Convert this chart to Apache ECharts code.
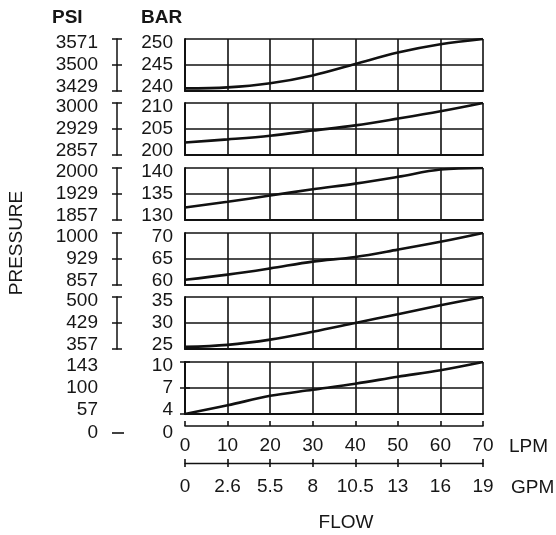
<!DOCTYPE html>
<html>
<head>
<meta charset="utf-8">
<script src="https://cdn.jsdelivr.net/npm/echarts@6/dist/echarts.min.js"></script>
<style>
html,body{margin:0;padding:0;background:#fff;}
#chart{width:556px;height:535px;}
</style>
</head>
<body>
<div id="chart"></div>
<script>
// ---- data ----
const lpm = [0, 10, 20, 30, 40, 50, 60, 70];
const gpmLabels = ['0', '2.6', '5.5', '8', '10.5', '13', '16', '19'];

const barTicks1 = [240, 245, 250];
const psiTicks1 = ['3429', '3500', '3571'];
const bar1 = [240.5, 240.7, 241.5, 243.0, 245.2, 247.4, 249.0, 250.0];

const barTicks2 = [200, 205, 210];
const psiTicks2 = ['2857', '2929', '3000'];
const bar2 = [202.4, 203.0, 203.7, 204.7, 205.7, 207.0, 208.4, 210.0];

const barTicks3 = [130, 135, 140];
const psiTicks3 = ['1857', '1929', '2000'];
const bar3 = [132.4, 133.5, 134.7, 135.9, 137.0, 138.3, 139.7, 140.0];

const barTicks4 = [60, 65, 70];
const psiTicks4 = ['857', '929', '1000'];
const bar4 = [61.0, 62.0, 63.2, 64.5, 65.4, 66.8, 68.3, 70.0];

const barTicks5 = [25, 30, 35];
const psiTicks5 = ['357', '429', '500'];
const bar5 = [25.4, 25.8, 26.8, 28.3, 30.0, 31.7, 33.4, 35.0];

const barTicks6 = [4, 7, 10];
const psiTicks6 = ['57', '100', '143'];
const bar6 = [4.0, 5.0, 6.1, 6.8, 7.5, 8.3, 9.05, 10.0];

const psiZero = '0';
const barZero = '0';

// ---- layout ----
const panels = [
  {bar: barTicks1, psi: psiTicks1, vals: bar1},
  {bar: barTicks2, psi: psiTicks2, vals: bar2},
  {bar: barTicks3, psi: psiTicks3, vals: bar3},
  {bar: barTicks4, psi: psiTicks4, vals: bar4},
  {bar: barTicks5, psi: psiTicks5, vals: bar5},
  {bar: barTicks6, psi: psiTicks6, vals: bar6}
];
const tops = [39, 103, 168, 233, 297, 362];
const FONT = "'Liberation Sans', Arial, sans-serif";
const FS = 19;
const TXT = '#161616';
const INK = '#111';

const richBase = {fontSize: FS, fontFamily: FONT, color: TXT};
const rich = {
  lo: Object.assign({padding: [0, 0, 8, 0]}, richBase),
  md: Object.assign({}, richBase),
  hi: Object.assign({padding: [8, 0, 0, 0]}, richBase)
};
const keys = ['lo', 'md', 'hi'];

const grid = [], xAxis = [], yAxis = [], series = [];
panels.forEach((p, i) => {
  grid.push({left: 185, width: 298, top: tops[i], height: 52});
  const mn = p.bar[0], mx = p.bar[2], iv = p.bar[1] - p.bar[0];
  const idx = v => Math.round((v - mn) / iv);
  xAxis.push({
    type: 'value', gridIndex: i, min: 0, max: 70, interval: 10,
    axisLine: {show: true, onZero: false, lineStyle: {color: INK, width: 2}},
    axisTick: {show: false}, axisLabel: {show: false},
    splitLine: {show: true, lineStyle: {color: INK, width: 1.6}}
  });
  // BAR axis
  yAxis.push({
    type: 'value', gridIndex: i, min: mn, max: mx, interval: iv,
    axisLine: {show: true, lineStyle: {color: INK, width: 2}},
    axisTick: {show: false},
    axisLabel: {margin: 12, fontSize: FS, fontFamily: FONT, color: TXT, rich,
      formatter: v => '{' + keys[idx(v)] + '|' + p.bar[idx(v)] + '}'},
    splitLine: {show: true, lineStyle: {color: INK, width: 1.6}}
  });
  // PSI bracket (outside ticks + labels)
  yAxis.push({
    type: 'value', gridIndex: i, min: mn, max: mx, interval: iv,
    position: 'left', offset: 68,
    axisLine: {show: true, lineStyle: {color: INK, width: 1.5}},
    axisTick: {show: true, inside: false, length: 5, lineStyle: {color: INK, width: 1.5}},
    axisLabel: {margin: 19, fontSize: FS, fontFamily: FONT, color: TXT, rich,
      formatter: v => '{' + keys[idx(v)] + '|' + p.psi[idx(v)] + '}'},
    splitLine: {show: false}
  });
  // PSI bracket (inside ticks)
  yAxis.push({
    type: 'value', gridIndex: i, min: mn, max: mx, interval: iv,
    position: 'left', offset: 68,
    axisLine: {show: false},
    axisTick: {show: true, inside: true, length: 5, lineStyle: {color: INK, width: 1.5}},
    axisLabel: {show: false},
    splitLine: {show: false}
  });
  series.push({
    type: 'line', xAxisIndex: i, yAxisIndex: i * 3, smooth: 0.35,
    symbol: 'none', lineStyle: {color: INK, width: 2.6},
    data: lpm.map((x, j) => [x, p.vals[j]])
  });
});

// LPM axis
xAxis.push({
  type: 'value', gridIndex: 5, min: 0, max: 70, interval: 10,
  position: 'bottom', offset: 12,
  axisLine: {show: true, onZero: false, lineStyle: {color: INK, width: 1.6}},
  axisTick: {show: true, inside: true, length: 5, lineStyle: {color: INK, width: 1.6}},
  axisLabel: {margin: 10, fontSize: FS, fontFamily: FONT, color: TXT},
  splitLine: {show: false}
});
// GPM axis (outside ticks + labels)
xAxis.push({
  type: 'value', gridIndex: 5, min: 0, max: 70, interval: 10,
  position: 'bottom', offset: 49,
  axisLine: {show: true, onZero: false, lineStyle: {color: INK, width: 1.4}},
  axisTick: {show: true, inside: false, length: 4, lineStyle: {color: INK, width: 1.6}},
  axisLabel: {margin: 14, fontSize: FS, fontFamily: FONT, color: TXT,
    formatter: v => gpmLabels[Math.round(v / 10)]},
  splitLine: {show: false}
});
// GPM axis (inside ticks)
xAxis.push({
  type: 'value', gridIndex: 5, min: 0, max: 70, interval: 10,
  position: 'bottom', offset: 49,
  axisLine: {show: false},
  axisTick: {show: true, inside: true, length: 4, lineStyle: {color: INK, width: 1.6}},
  axisLabel: {show: false},
  splitLine: {show: false}
});

const tStyle = (extra) => Object.assign({fontSize: FS, fontFamily: FONT, fill: TXT}, extra);
const graphic = [
  {type: 'text', left: 52, top: 8, style: tStyle({text: 'PSI', fontWeight: 'bold'})},
  {type: 'text', left: 141, top: 8, style: tStyle({text: 'BAR', fontWeight: 'bold'})},
  {type: 'text', x: 17, y: 243, rotation: Math.PI / 2,
    style: tStyle({text: 'PRESSURE', align: 'center', verticalAlign: 'middle'})},
  {type: 'text', x: 98, y: 433, style: tStyle({text: psiZero, align: 'right', verticalAlign: 'middle'})},
  {type: 'text', x: 173, y: 433, style: tStyle({text: barZero, align: 'right', verticalAlign: 'middle'})},
  {type: 'line', shape: {x1: 112, y1: 433, x2: 124, y2: 433}, style: {stroke: INK, lineWidth: 1.6}},
  {type: 'text', x: 509, y: 447, style: tStyle({text: 'LPM', verticalAlign: 'middle'})},
  {type: 'text', x: 511, y: 488, style: tStyle({text: 'GPM', verticalAlign: 'middle'})},
  {type: 'text', x: 346, y: 523, style: tStyle({text: 'FLOW', align: 'center', verticalAlign: 'middle'})}
];

const chart = echarts.init(document.getElementById('chart'), null, {renderer: 'canvas'});
chart.setOption({
  animation: false,
  backgroundColor: '#fff',
  grid, xAxis, yAxis, series, graphic
});
</script>
</body>
</html>
